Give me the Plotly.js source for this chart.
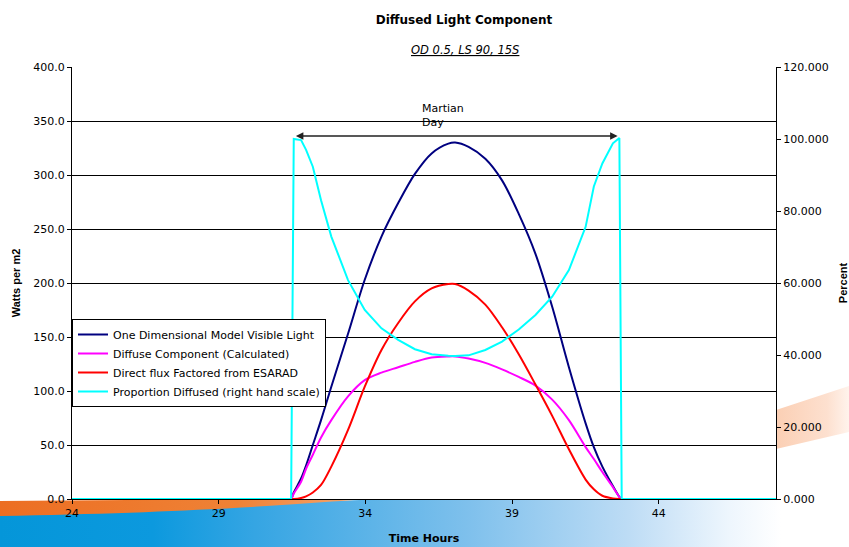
<!DOCTYPE html>
<html>
<head>
<meta charset="utf-8">
<script src="https://cdn.plot.ly/plotly-3.0.1.min.js"></script>
<style>
  html, body { margin: 0; padding: 0; background: #ffffff; }
  #chart { width: 849px; height: 547px; }
</style>
</head>
<body>
<div id="chart"></div>
<script>
// ---- data ----
const hours = [24, 31.4, 31.47, 31.56, 31.81, 31.98, 32.21, 32.49, 32.84, 33.41, 33.98, 34.55, 35.12, 35.69, 36.26, 36.83, 37.06, 37.52, 38.09, 38.66, 39.23, 39.8, 40.37, 40.94, 41.51, 41.79, 42.08, 42.44, 42.66, 42.74, 42.8, 48];
const modelVisible = [0, 0, 0, 6, 19, 31, 50, 73, 104, 153, 203, 243, 274, 301, 320, 329, 330, 326, 315, 295, 264, 227, 178, 122, 70, 48, 30, 12, 2, 0, 0, 0];
const diffuse = [0, 0, 0, 5, 16, 28, 41, 57, 73, 95, 110, 117, 122, 127, 131, 132, 132, 130, 126, 120, 113, 105, 92, 73, 48, 37, 25, 11, 2, 0, 0, 0];
const directFlux = [0, 0, 0, 0, 1, 2.5, 6, 13, 30, 64, 104, 138, 163, 183, 195, 199, 199, 193, 180, 159, 134, 106, 77, 46, 18, 9, 3, 0.5, 0, 0, 0, 0];
const proportionDiffused = [0, 0, 0, 100, 99.7, 97, 92.3, 83, 72.9, 60.8, 52.5, 47.4, 44.2, 41.6, 40.2, 39.8, 39.7, 39.9, 41.4, 43.7, 47.1, 51.1, 56.2, 63.6, 75.6, 86.8, 93.2, 98.8, 100.3, 0, 0, 0];

const seriesNames = [
  "One Dimensional Model Visible Light",
  "Diffuse Component (Calculated)",
  "Direct flux Factored from ESARAD",
  "Proportion Diffused (right hand scale)"
];
const seriesColors = ["#000080", "#ff00ff", "#ff0000", "#00ffff"];

const dayStart = 31.58, dayEnd = 42.6, dayLevel = 336;

// ---- slide background decoration ----
const bgSvg = "<svg xmlns='http://www.w3.org/2000/svg' width='849' height='547' viewBox='0 0 849 547' preserveAspectRatio='none'>" +
  "<defs>" +
  "<linearGradient id='b' x1='0' y1='0' x2='1' y2='0'>" +
  "<stop offset='0' stop-color='#0496d9'/>" +
  "<stop offset='0.18' stop-color='#0c99de'/>" +
  "<stop offset='0.3' stop-color='#35a5e3'/>" +
  "<stop offset='0.55' stop-color='#7ec0ec'/>" +
  "<stop offset='0.74' stop-color='#bddcf5'/>" +
  "<stop offset='0.86' stop-color='#eef6fd'/>" +
  "<stop offset='0.92' stop-color='#ffffff'/>" +
  "</linearGradient>" +
  "<linearGradient id='o' x1='0' y1='0' x2='1' y2='0'>" +
  "<stop offset='0' stop-color='#ec6e22'/>" +
  "<stop offset='0.65' stop-color='#ef8236'/>" +
  "<stop offset='1' stop-color='#f4a66f'/>" +
  "</linearGradient>" +
  "<linearGradient id='p' x1='0' y1='0' x2='1' y2='0'>" +
  "<stop offset='0' stop-color='#fbcfb4'/>" +
  "<stop offset='0.7' stop-color='#fde0cf'/>" +
  "<stop offset='1' stop-color='#fff3ec'/>" +
  "</linearGradient>" +
  "</defs>" +
  "<path d='M0,513 L360,500 L849,500 L849,547 L0,547 Z' fill='url(#b)'/>" +
  "<path d='M0,501 C120,500 250,499 365,499 C290,505 180,513 0,516 Z' fill='url(#o)'/>" +
  "<path d='M776,410 L849,386 L849,432 L776,449 Z' fill='url(#p)'/>" +
  "<rect x='72' y='67' width='704' height='432' fill='#ffffff'/>" +
  "</svg>";

const FONT = "DejaVu Sans, Liberation Sans, Arial, sans-serif";
const VFONT = "Liberation Sans, Arial, sans-serif";

function curve(x, y, i, axis, shape) {
  const t = { x: x, y: y, name: seriesNames[i], type: "scatter", mode: "lines",
    line: { color: seriesColors[i], width: 2, shape: shape } };
  if (shape === "spline") t.line.smoothing = 0.9;
  if (axis) t.yaxis = axis;
  return t;
}

const traces = [
  curve(hours, modelVisible, 0, null, "spline"),
  curve(hours, diffuse, 1, null, "spline"),
  curve(hours, directFlux, 2, null, "spline"),
  curve(hours, proportionDiffused, 3, "y2", "linear")
];

const W = 849, H = 547, L = 72, R = 73, T = 67, B = 48;
const pw = W - L - R, ph = H - T - B;

const layout = {
  width: W, height: H,
  margin: { l: L, r: R, t: T, b: B, pad: 0 },
  paper_bgcolor: "#ffffff",
  plot_bgcolor: "#ffffff",
  font: { family: FONT, size: 11, color: "#000000" },
  showlegend: true,
  title: {
    text: "<b>Diffused Light Component</b>",
    font: { family: FONT, size: 12, color: "#000000" },
    x: 464 / W, xanchor: "center", xref: "container",
    y: 1 - 20 / H, yanchor: "middle", yref: "container"
  },
  xaxis: {
    range: [24, 48], tick0: 24, dtick: 5, tickmode: "linear",
    showgrid: false, zeroline: false,
    showline: true, linecolor: "#000000", linewidth: 1,
    ticks: "outside", ticklen: 4, tickcolor: "#000000",
    tickfont: { family: FONT, size: 11, color: "#000000" },
    title: { text: "<b>Time Hours</b>", font: { family: FONT, size: 11, color: "#000000" }, standoff: 15 }
  },
  yaxis: {
    range: [0, 400], tick0: 0, dtick: 50, tickmode: "linear", tickformat: ".1f",
    showgrid: true, gridcolor: "#000000", gridwidth: 1, zeroline: false,
    showline: true, linecolor: "#000000", linewidth: 1,
    ticks: "outside", ticklen: 4, tickcolor: "#000000",
    tickfont: { family: FONT, size: 11, color: "#000000" },
    title: { text: "<b>Watts per m2</b>", font: { family: VFONT, size: 11, color: "#000000" }, standoff: 10 }
  },
  yaxis2: {
    range: [0, 120], tick0: 0, dtick: 20, tickmode: "linear", tickformat: ".3f",
    overlaying: "y", side: "right",
    showgrid: false, zeroline: false,
    showline: true, linecolor: "#000000", linewidth: 1,
    ticks: "outside", ticklen: 4, tickcolor: "#000000",
    tickfont: { family: FONT, size: 11, color: "#000000" },
    title: { text: "<b>Percent</b>", font: { family: VFONT, size: 11, color: "#000000" }, standoff: 12 }
  },
  legend: {
    x: 0, xanchor: "left", y: (499 - 319) / ph, yanchor: "top",
    bgcolor: "#ffffff", bordercolor: "#000000", borderwidth: 1,
    font: { family: FONT, size: 11, color: "#000000" },
    itemwidth: 30, tracegroupgap: 0
  },
  annotations: [
    {
      xref: "paper", yref: "paper",
      x: (465 - L) / pw, y: (499 - 50) / ph, xanchor: "center", yanchor: "middle",
      text: "<i><u>OD 0.5, LS 90, 15S</u></i>", showarrow: false,
      font: { family: FONT, size: 11.5, color: "#000000" }
    },
    {
      xref: "x", yref: "y",
      x: 35.85, y: 355, xanchor: "left", yanchor: "middle", align: "left",
      text: "Martian<br>Day", showarrow: false,
      font: { family: FONT, size: 11, color: "#000000" }
    },
    {
      xref: "x", yref: "y", axref: "x", ayref: "y",
      x: dayEnd, y: dayLevel, ax: dayStart, ay: dayLevel,
      text: "", showarrow: true,
      arrowhead: 2, startarrowhead: 2, arrowside: "end+start",
      arrowsize: 1, startarrowsize: 1, arrowwidth: 1.5, arrowcolor: "#222222",
      standoff: 0, startstandoff: 0
    }
  ],
  images: [
    {
      source: "data:image/svg+xml;charset=utf-8," + encodeURIComponent(bgSvg),
      xref: "paper", yref: "paper",
      x: -L / pw, y: (H - B) / ph,
      sizex: W / pw, sizey: H / ph,
      xanchor: "left", yanchor: "top",
      sizing: "stretch", layer: "below"
    }
  ]
};

Plotly.newPlot("chart", traces, layout, { displayModeBar: false, staticPlot: true });
</script>
</body>
</html>
